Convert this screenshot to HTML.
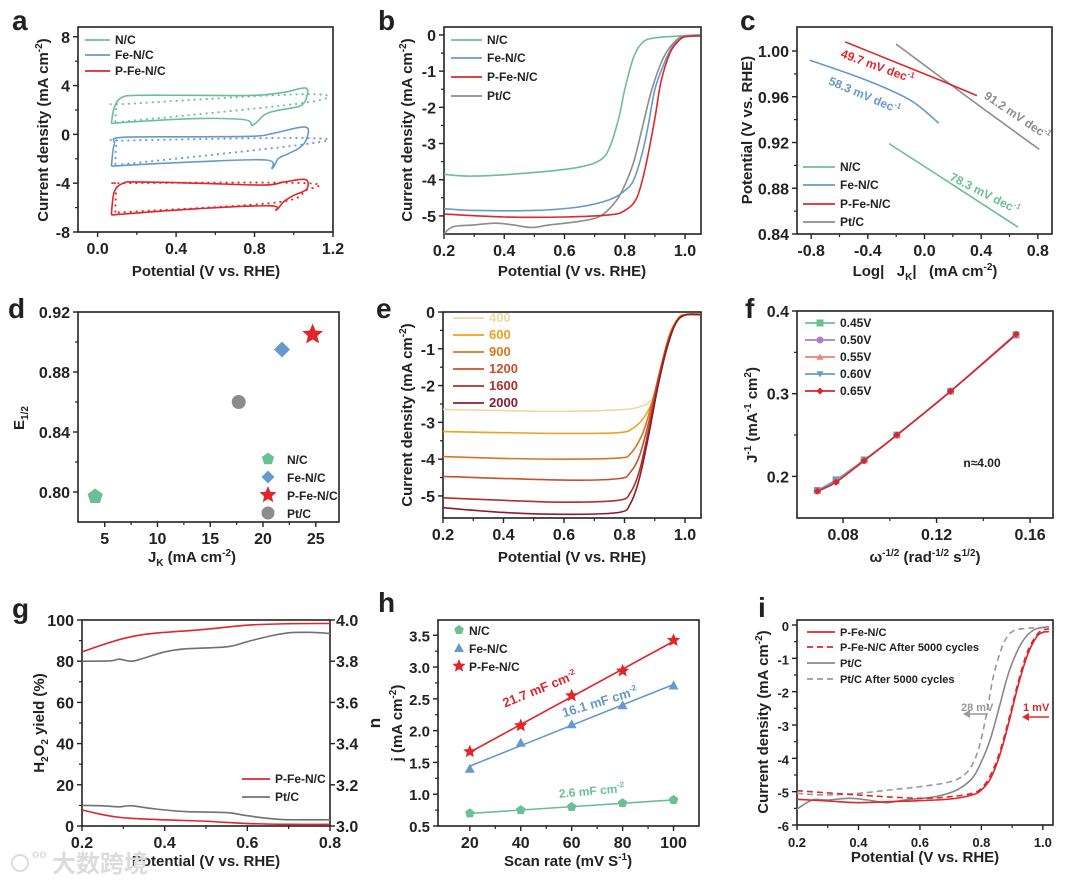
<!DOCTYPE html>
<html><head><meta charset="utf-8"><title>Electrocatalysis figure</title>
<style>
html,body{margin:0;padding:0;background:#fff;}
svg{display:block;font-family:"Liberation Sans","Noto Sans CJK SC",sans-serif;}
</style></head>
<body>
<svg id="fig" width="1076" height="885" viewBox="0 0 1076 885" xmlns="http://www.w3.org/2000/svg"></svg>
<script>
// ---------- data: panel a (CV) ----------
const aNCsolid=[[0.07,0.9],[0.085,2.2],[0.12,3.0],[0.2,3.2],[0.5,3.2],[0.8,3.2],[0.95,3.45],[1.06,3.8],[1.065,3.0],[1.04,2.4],[1.0,2.2],[0.9,1.9],[0.85,1.6],[0.79,0.75],[0.75,1.2],[0.5,1.3],[0.2,1.05],[0.07,0.9]];
const aNCdot=[[0.09,1.0],[0.1,2.4],[0.15,2.5],[1.06,3.3],[1.06,2.6],[0.1,1.0]];
const aFeSolid=[[0.07,-2.6],[0.085,-0.8],[0.12,-0.25],[0.5,-0.2],[0.8,-0.15],[0.9,0.1],[1.06,0.6],[1.065,-0.4],[1.03,-1.1],[0.97,-1.6],[0.92,-2.0],[0.89,-2.8],[0.86,-2.1],[0.5,-2.25],[0.07,-2.6]];
const aFeDot=[[0.09,-2.5],[0.1,-0.6],[0.15,-0.5],[1.06,-0.3],[1.06,-0.8],[0.1,-2.5]];
const aPSolid=[[0.07,-6.6],[0.085,-4.7],[0.13,-4.0],[0.2,-3.9],[0.5,-4.0],[0.85,-4.15],[0.95,-3.9],[1.06,-3.7],[1.065,-4.5],[1.0,-5.0],[0.95,-5.5],[0.91,-6.2],[0.88,-5.85],[0.5,-6.1],[0.07,-6.6]];
const aPDot=[[0.09,-6.4],[0.1,-4.2],[0.15,-4.0],[1.06,-4.0],[1.06,-4.6],[0.9,-5.6],[0.1,-6.4]];
// ---------- panel b (LSV) ----------
const bNC=[[0.2,-3.85],[0.3,-3.9],[0.5,-3.8],[0.65,-3.65],[0.72,-3.45],[0.75,-3.1],[0.78,-2.3],[0.8,-1.5],[0.83,-0.6],[0.86,-0.2],[0.9,-0.08],[1.0,-0.02],[1.05,0]];
const bFe=[[0.2,-4.8],[0.3,-4.85],[0.5,-4.85],[0.65,-4.75],[0.75,-4.55],[0.8,-4.3],[0.83,-4.0],[0.86,-3.2],[0.88,-2.4],[0.9,-1.5],[0.93,-0.8],[0.96,-0.3],[1.0,-0.05],[1.05,-0.02]];
const bP=[[0.2,-4.95],[0.4,-5.03],[0.6,-5.03],[0.75,-4.97],[0.8,-4.85],[0.84,-4.5],[0.87,-3.6],[0.9,-2.3],[0.92,-1.3],[0.95,-0.5],[0.98,-0.15],[1.0,-0.05],[1.05,-0.03]];
const bPt=[[0.2,-5.5],[0.23,-5.3],[0.3,-5.25],[0.37,-5.2],[0.43,-5.25],[0.49,-5.32],[0.55,-5.25],[0.65,-5.15],[0.72,-5.0],[0.77,-4.6],[0.8,-4.15],[0.83,-3.5],[0.86,-2.5],[0.89,-1.5],[0.93,-0.6],[0.97,-0.15],[1.0,-0.03],[1.05,0]];
// ---------- panel c (Tafel) ----------
const cP=[[-0.56,1.008],[-0.2,0.99],[0.1,0.975],[0.37,0.961]];
const cFe=[[-0.81,0.992],[-0.4,0.974],[-0.1,0.957],[0.1,0.937]];
const cPt=[[-0.2,1.006],[0.3,0.96],[0.81,0.914]];
const cNC=[[-0.25,0.919],[0.2,0.883],[0.66,0.846]];
// ---------- panel d (scatter) ----------
const dNames=["N/C","Fe-N/C","P-Fe-N/C","Pt/C"];
const dJk=[4.1,21.8,24.7,17.7];
const dE=[0.797,0.895,0.905,0.860];
// ---------- panel e (rpm) ----------
const eRpm=["400","600","900","1200","1600","2000"];
const e400=[[0.2,-2.65],[0.4,-2.68],[0.6,-2.7],[0.8,-2.65],[0.86,-2.55],[0.88,-2.45],[0.9,-2.2],[0.93,-1.2],[0.96,-0.4],[1.0,-0.08],[1.05,-0.06]];
const e600=[[0.2,-3.25],[0.4,-3.28],[0.6,-3.3],[0.78,-3.28],[0.83,-3.15],[0.87,-2.8],[0.9,-2.25],[0.93,-1.2],[0.96,-0.4],[1.0,-0.08],[1.05,-0.06]];
const e900=[[0.2,-3.93],[0.4,-3.98],[0.6,-4.0],[0.78,-3.97],[0.82,-3.85],[0.86,-3.3],[0.89,-2.5],[0.92,-1.5],[0.95,-0.6],[0.98,-0.15],[1.0,-0.08],[1.05,-0.07]];
const e1200=[[0.2,-4.47],[0.6,-4.57],[0.78,-4.53],[0.82,-4.35],[0.85,-3.9],[0.88,-3.0],[0.91,-1.9],[0.94,-0.9],[0.97,-0.3],[1.0,-0.08],[1.05,-0.07]];
const e1600=[[0.2,-5.05],[0.4,-5.12],[0.6,-5.17],[0.78,-5.12],[0.82,-4.9],[0.85,-4.3],[0.88,-3.2],[0.91,-2.0],[0.94,-0.95],[0.97,-0.3],[1.0,-0.08],[1.05,-0.07]];
const e2000=[[0.2,-5.32],[0.4,-5.45],[0.6,-5.5],[0.78,-5.45],[0.82,-5.2],[0.85,-4.5],[0.88,-3.35],[0.91,-2.05],[0.94,-1.0],[0.97,-0.3],[1.0,-0.08],[1.05,-0.07]];
// ---------- panel f (K-L) ----------
const fX=[0.069,0.077,0.089,0.103,0.126,0.154];
const f045=[0.183,0.196,0.220,0.250,0.303,0.371];
const f050=[0.183,0.195,0.219,0.250,0.303,0.371];
const f055=[0.182,0.194,0.219,0.250,0.303,0.372];
const f060=[0.182,0.194,0.219,0.250,0.303,0.372];
const f065=[0.182,0.193,0.219,0.250,0.303,0.372];
// ---------- panel g (RRDE) ----------
const gPn=[[0.2,84.5],[0.25,88],[0.3,91],[0.35,93],[0.4,94],[0.5,95.5],[0.6,97.5],[0.7,98.2],[0.8,98.3]];
const gPtn=[[0.2,80],[0.27,80.2],[0.29,81],[0.32,80],[0.35,81.5],[0.4,84.5],[0.45,86],[0.55,87],[0.6,89.5],[0.65,92],[0.7,93.8],[0.75,94],[0.8,93.5]];
const gPh=[[0.2,7.8],[0.25,5.5],[0.3,4],[0.4,3],[0.5,2.3],[0.6,1.2],[0.7,0.8],[0.8,0.8]];
const gPth=[[0.2,10],[0.25,9.8],[0.29,9.3],[0.32,9.8],[0.38,8.2],[0.45,7],[0.55,6.5],[0.6,5],[0.68,3.2],[0.8,3]];
// ---------- panel h (Cdl) ----------
const hScan=[20,40,60,80,100];
const hNC=[0.70,0.75,0.80,0.86,0.91];
const hFe=[1.40,1.81,2.10,2.40,2.71];
const hP=[1.67,2.08,2.55,2.94,3.42];
// ---------- panel i (stability) ----------
const iP=[[0.2,-5.23],[0.3,-5.28],[0.4,-5.33],[0.5,-5.3],[0.6,-5.27],[0.7,-5.22],[0.77,-5.1],[0.8,-4.95],[0.83,-4.6],[0.86,-3.9],[0.89,-2.9],[0.92,-1.8],[0.95,-0.9],[0.98,-0.35],[1.0,-0.22],[1.02,-0.2]];
const iPd=[[0.2,-4.97],[0.4,-5.1],[0.6,-5.2],[0.7,-5.15],[0.77,-5.05],[0.8,-4.9],[0.83,-4.5],[0.86,-3.8],[0.89,-2.8],[0.92,-1.7],[0.95,-0.8],[0.98,-0.3],[1.0,-0.15],[1.02,-0.12]];
const iPt=[[0.2,-5.52],[0.25,-5.25],[0.3,-5.25],[0.37,-5.2],[0.43,-5.25],[0.49,-5.33],[0.55,-5.25],[0.65,-5.15],[0.72,-4.95],[0.77,-4.6],[0.8,-4.1],[0.83,-3.4],[0.86,-2.4],[0.89,-1.4],[0.93,-0.55],[0.97,-0.15],[1.02,-0.05]];
const iPtd=[[0.2,-5.05],[0.3,-5.1],[0.4,-5.05],[0.5,-4.95],[0.6,-4.85],[0.7,-4.7],[0.75,-4.45],[0.78,-4.0],[0.8,-3.4],[0.82,-2.5],[0.84,-1.5],[0.87,-0.6],[0.9,-0.2],[0.95,-0.1],[1.02,-0.07]];

const NS="http://www.w3.org/2000/svg";
const svg=document.getElementById('fig');
const GREEN="#6cbf94",BLUE="#6699cc",RED="#e0262a",GRAY="#8c8c8c";

function mk(tag,attrs,parent,name){
  const el=document.createElementNS(NS,tag);
  for(const k in attrs) el.setAttribute(k,attrs[k]);
  
  
  (parent||svg).appendChild(el);
  return el;
}
function txt(x,y,s,opt,name){
  opt=opt||{};
  const t=mk('text',{x:x,y:y,'font-size':opt.size||15,'font-weight':opt.w||'bold','fill':opt.fill||'#222','text-anchor':opt.anchor||'start'},opt.parent,name);
  if(opt.rot!==undefined) t.setAttribute('transform','rotate('+opt.rot+' '+x+' '+y+')');
  t.innerHTML=s;
  return t;
}
function scale(d0,d1,p0,p1){return v=>p0+(v-d0)/(d1-d0)*(p1-p0);}
function smoothPath(pts){
  if(pts.length<3) return 'M'+pts.map(p=>p.join(',')).join('L');
  let d='M'+pts[0][0]+','+pts[0][1];
  for(let i=0;i<pts.length-1;i++){
    const p0=pts[i-1]||pts[i],p1=pts[i],p2=pts[i+1],p3=pts[i+2]||p2;
    const c1=[p1[0]+(p2[0]-p0[0])/6,p1[1]+(p2[1]-p0[1])/6];
    const c2=[p2[0]-(p3[0]-p1[0])/6,p2[1]-(p3[1]-p1[1])/6];
    d+='C'+c1[0]+','+c1[1]+' '+c2[0]+','+c2[1]+' '+p2[0]+','+p2[1];
  }
  return d;
}
function axes(c){
  const sx=scale(c.xd[0],c.xd[1],c.l,c.r), sy=scale(c.yd[0],c.yd[1],c.b,c.t);
  const g=mk('g',{},svg,c.id+'-axes');
  mk('rect',{x:c.l,y:c.t,width:c.r-c.l,height:c.b-c.t,fill:'none',stroke:'#222','stroke-width':1.6},g,c.id+'-plot-frame');
  c.xt.forEach((v,i)=>{const x=sx(v);
    mk('line',{x1:x,y1:c.b,x2:x,y2:c.b+5,stroke:'#222','stroke-width':1.4},g,c.id+'-x-tick');
    txt(x,c.b+22,c.xl[i],{anchor:'middle',size:c.fs||16,parent:g},c.id+'-x-tick-label');});
  (c.xm||[]).forEach(v=>{const x=sx(v);mk('line',{x1:x,y1:c.b,x2:x,y2:c.b+3,stroke:'#222','stroke-width':1.2},g,c.id+'-x-minor-tick');});
  c.yt.forEach((v,i)=>{const y=sy(v);
    mk('line',{x1:c.l-5,y1:y,x2:c.l,y2:y,stroke:'#222','stroke-width':1.4},g,c.id+'-y-tick');
    txt(c.l-8,y+6,c.yl[i],{anchor:'end',size:c.yfs||c.fs||16,parent:g},c.id+'-y-tick-label');});
  (c.ym||[]).forEach(v=>{const y=sy(v);mk('line',{x1:c.l-3,y1:y,x2:c.l,y2:y,stroke:'#222','stroke-width':1.2},g,c.id+'-y-minor-tick');});
  return {sx,sy};
}
function curve(A,pts,color,name,opt){
  opt=opt||{};
  const p=pts.map(q=>[A.sx(q[0]),A.sy(q[1])]);
  const el=mk('path',{d:smoothPath(p),fill:'none',stroke:color,'stroke-width':opt.w||1.6,'stroke-linejoin':'round'},svg,name);
  if(opt.dash) el.setAttribute('stroke-dasharray',opt.dash);
  return el;
}
function legLine(x1,x2,y,color,label,name,opt){
  opt=opt||{};
  const l=mk('line',{x1:x1,y1:y,x2:x2,y2:y,stroke:color,'stroke-width':opt.w||1.8},svg,name+'-swatch');
  if(opt.dash) l.setAttribute('stroke-dasharray',opt.dash);
  txt(x2+5,y+4,label,{size:opt.size||12,fill:opt.fill||'#222'},name+'-label');
}
function marker(type,x,y,color,r,name){
  if(type==='circle') return mk('circle',{cx:x,cy:y,r:r,fill:color},svg,name);
  let pts=[];
  if(type==='diamond') pts=[[0,-r],[r,0],[0,r],[-r,0]];
  if(type==='square') pts=[[-r,-r],[r,-r],[r,r],[-r,r]];
  if(type==='tri') pts=[[0,-r],[r,r*0.8],[-r,r*0.8]];
  if(type==='tridown') pts=[[0,r],[r,-r*0.8],[-r,-r*0.8]];
  if(type==='pent'){for(let k=0;k<5;k++){const a=-Math.PI/2+k*2*Math.PI/5;pts.push([r*Math.cos(a),r*Math.sin(a)]);}}
  if(type==='star'){for(let k=0;k<10;k++){const a=-Math.PI/2+k*Math.PI/5;const rr=k%2?r*0.45:r;pts.push([rr*Math.cos(a),rr*Math.sin(a)]);}}
  return mk('polygon',{points:pts.map(p=>(x+p[0])+','+(y+p[1])).join(' '),fill:color},svg,name);
}
function panelLetter(x,y,s){txt(x,y,s,{size:28},'panel-label-'+s);}

// ===== Panel a =====
panelLetter(12,30,'a');
let A=axes({id:'a',l:78,r:333,t:27,b:232,xd:[-0.1,1.2],yd:[-8,8.8],xt:[0,0.4,0.8,1.2],xl:['0.0','0.4','0.8','1.2'],xm:[0.2,0.6,1.0],yt:[8,4,0,-4,-8],yl:['8','4','0','-4','-8'],ym:[6,2,-2,-6]});
curve(A,aNCdot,GREEN,'a-nc-dotted',{dash:'2 4',w:1.8});
curve(A,aFeDot,BLUE,'a-fenc-dotted',{dash:'2 4',w:1.8});
curve(A,aPDot,RED,'a-pfenc-dotted',{dash:'2 4',w:1.8});
curve(A,aNCsolid,GREEN,'a-nc-cv');
curve(A,aFeSolid,BLUE,'a-fenc-cv');
curve(A,aPSolid,RED,'a-pfenc-cv');
legLine(85,110,40,GREEN,'N/C','a-legend-nc');
legLine(85,110,55,BLUE,'Fe-N/C','a-legend-fenc');
legLine(85,110,71,RED,'P-Fe-N/C','a-legend-pfenc');
txt(48,130,'Current density (mA cm<tspan font-size="10" dy="-6">-2</tspan><tspan dy="6">)</tspan>',{anchor:'middle',rot:-90,size:15},'a-y-axis-title');
txt(206,276,'Potential (V vs. RHE)',{anchor:'middle',size:15},'a-x-axis-title');

// ===== Panel b =====
panelLetter(378,30,'b');
A=axes({id:'b',l:444,r:701,t:27,b:234,xd:[0.2,1.053],yd:[-5.5,0.22],xt:[0.2,0.4,0.6,0.8,1.0],xl:['0.2','0.4','0.6','0.8','1.0'],xm:[0.3,0.5,0.7,0.9],yt:[0,-1,-2,-3,-4,-5],yl:['0','-1','-2','-3','-4','-5'],ym:[-0.5,-1.5,-2.5,-3.5,-4.5]});
curve(A,bNC,GREEN,'b-nc-curve');
curve(A,bPt,GRAY,'b-ptc-curve');
curve(A,bFe,BLUE,'b-fenc-curve');
curve(A,bP,RED,'b-pfenc-curve');
legLine(451,482,40,GREEN,'N/C','b-legend-nc');
legLine(451,482,58,BLUE,'Fe-N/C','b-legend-fenc');
legLine(451,482,77,RED,'P-Fe-N/C','b-legend-pfenc');
legLine(451,482,96,GRAY,'Pt/C','b-legend-ptc');
txt(412,130,'Current density (mA cm<tspan font-size="10" dy="-6">-2</tspan><tspan dy="6">)</tspan>',{anchor:'middle',rot:-90,size:15},'b-y-axis-title');
txt(572,276,'Potential (V vs. RHE)',{anchor:'middle',size:15},'b-x-axis-title');

// ===== Panel c =====
panelLetter(740,30,'c');
A=axes({id:'c',l:797,r:1052,t:27,b:234,xd:[-0.9,0.9],yd:[0.84,1.021],xt:[-0.8,-0.4,0,0.4,0.8],xl:['-0.8','-0.4','0.0','0.4','0.8'],xm:[-0.6,-0.2,0.2,0.6],yt:[1.0,0.96,0.92,0.88,0.84],yl:['1.00','0.96','0.92','0.88','0.84'],ym:[0.98,0.94,0.90,0.86]});
curve(A,cFe,BLUE,'c-fenc-tafel');
curve(A,cNC,GREEN,'c-nc-tafel');
curve(A,cPt,GRAY,'c-ptc-tafel');
curve(A,cP,RED,'c-pfenc-tafel');
txt(876,70,'49.7 mV dec<tspan font-size="8" dy="-5">-1</tspan>',{size:12,fill:RED,anchor:'middle',rot:20},'c-pfenc-slope-label');
txt(863,99,'58.3 mV dec<tspan font-size="8" dy="-5">-1</tspan>',{size:12,fill:BLUE,anchor:'middle',rot:23},'c-fenc-slope-label');
txt(1015,119,'91.2 mV dec<tspan font-size="8" dy="-5">-1</tspan>',{size:12,fill:GRAY,anchor:'middle',rot:34},'c-ptc-slope-label');
txt(983,197,'78.3 mV dec<tspan font-size="8" dy="-5">-1</tspan>',{size:12,fill:GREEN,anchor:'middle',rot:27},'c-nc-slope-label');
legLine(803,835,167,GREEN,'N/C','c-legend-nc');
legLine(803,835,185,BLUE,'Fe-N/C','c-legend-fenc');
legLine(803,835,204,RED,'P-Fe-N/C','c-legend-pfenc');
legLine(803,835,222,GRAY,'Pt/C','c-legend-ptc');
txt(752,130,'Potential (V vs. RHE)',{anchor:'middle',rot:-90,size:15},'c-y-axis-title');
txt(925,276,'Log|&#160;&#160;&#160;J<tspan font-size="10" dy="4">K</tspan><tspan dy="-4">|&#160;&#160;&#160;(mA cm</tspan><tspan font-size="10" dy="-6">-2</tspan><tspan dy="6">)</tspan>',{anchor:'middle',size:15},'c-x-axis-title');

// ===== Panel d =====
panelLetter(8,318,'d');
A=axes({id:'d',l:78,r:339,t:312,b:522,xd:[2.47,27.2],yd:[0.78,0.92],xt:[5,10,15,20,25],xl:['5','10','15','20','25'],xm:[7.5,12.5,17.5,22.5],yt:[0.92,0.88,0.84,0.80],yl:['0.92','0.88','0.84','0.80'],ym:[0.90,0.86,0.82]});
const dTypes=['pent','diamond','star','circle'];
const dColors=[GREEN,BLUE,RED,GRAY];
const dSizes=[8,8,11,7];
dJk.forEach((v,i)=>{marker(dTypes[i],A.sx(v),A.sy(dE[i]),dColors[i],dSizes[i],'d-point-'+dNames[i].toLowerCase().replace(/\//g,''));});
dNames.forEach((n,i)=>{const y=459+i*18;marker(dTypes[i],268,y,dColors[i],i===2?9:6.5,'d-legend-marker');txt(287,y+5,n,{size:12},'d-legend-label');});
txt(24,418,'E<tspan font-size="10" dy="4">1/2</tspan>',{anchor:'middle',rot:-90,size:15},'d-y-axis-title');
txt(192,562,'J<tspan font-size="10" dy="4">K</tspan><tspan dy="-4"> (mA cm</tspan><tspan font-size="10" dy="-6">-2</tspan><tspan dy="6">)</tspan>',{anchor:'middle',size:15},'d-x-axis-title');

// ===== Panel e =====
panelLetter(376,318,'e');
A=axes({id:'e',l:443,r:701,t:312,b:518,xd:[0.2,1.053],yd:[-5.6,0],xt:[0.2,0.4,0.6,0.8,1.0],xl:['0.2','0.4','0.6','0.8','1.0'],xm:[0.3,0.5,0.7,0.9],yt:[0,-1,-2,-3,-4,-5],yl:['0','-1','-2','-3','-4','-5'],ym:[-0.5,-1.5,-2.5,-3.5,-4.5]});
const eColors=['#efd7a6','#f0a01e','#d9761c','#c8502a','#b0302a','#8b1c2a'];
[e400,e600,e900,e1200,e1600,e2000].forEach((s,i)=>{curve(A,s,eColors[i],'e-curve-'+eRpm[i]+'rpm');});
eRpm.forEach((r,i)=>{legLine(453,484,318+i*17,eColors[i],r,'e-legend-'+r,{size:13,fill:eColors[i]});});
txt(412,415,'Current density (mA cm<tspan font-size="10" dy="-6">-2</tspan><tspan dy="6">)</tspan>',{anchor:'middle',rot:-90,size:15},'e-y-axis-title');
txt(572,562,'Potential (V vs. RHE)',{anchor:'middle',size:15},'e-x-axis-title');

// ===== Panel f =====
panelLetter(745,318,'f');
A=axes({id:'f',l:797,r:1053,t:311,b:518,xd:[0.0603,0.1698],yd:[0.1497,0.4],xt:[0.08,0.12,0.16],xl:['0.08','0.12','0.16'],xm:[0.1,0.14],yt:[0.4,0.3,0.2],yl:['0.4','0.3','0.2'],ym:[0.35,0.25]});
const fSeries=[f045,f050,f055,f060,f065];
const fLabels=['0.45V','0.50V','0.55V','0.60V','0.65V'];
const fColors=['#6cbf94','#b07cc6','#f08070','#6699cc','#d9262a'];
const fMarks=['square','circle','tri','tridown','diamond'];
fSeries.forEach((s,i)=>{
  curve(A,fX.map((x,j)=>[x,s[j]]),fColors[i],'f-line-'+fLabels[i],{w:1.6});
  fX.forEach((x,j)=>marker(fMarks[i],A.sx(x),A.sy(s[j]),fColors[i],3.5,'f-point'));
});
fLabels.forEach((l,i)=>{const y=323+i*17;legLine(805,835,y,fColors[i],l,'f-legend-'+l,{size:12});marker(fMarks[i],820,y,fColors[i],3.5,'f-legend-marker');});
txt(982,467,'n≈4.00',{size:12,anchor:'middle'},'f-n-annotation');
txt(757,415,'J<tspan font-size="10" dy="-6">-1</tspan><tspan dy="6"> (mA</tspan><tspan font-size="10" dy="-6">-1</tspan><tspan dy="6"> cm</tspan><tspan font-size="10" dy="-6">2</tspan><tspan dy="6">)</tspan>',{anchor:'middle',rot:-90,size:15},'f-y-axis-title');
txt(925,562,'ω<tspan font-size="10" dy="-6">-1/2</tspan><tspan dy="6"> (rad</tspan><tspan font-size="10" dy="-6">-1/2</tspan><tspan dy="6"> s</tspan><tspan font-size="10" dy="-6">1/2</tspan><tspan dy="6">)</tspan>',{anchor:'middle',size:15},'f-x-axis-title');

// ===== Panel g =====
panelLetter(12,618,'g');
A=axes({id:'g',l:82,r:330,t:620,b:826,xd:[0.2,0.8],yd:[0,100],xt:[0.2,0.4,0.6,0.8],xl:['0.2','0.4','0.6','0.8'],xm:[0.3,0.5,0.7],yt:[100,80,60,40,20,0],yl:['100','80','60','40','20','0'],ym:[90,70,50,30,10]});
const gRt=[4.0,3.8,3.6,3.4,3.2,3.0];
gRt.forEach(v=>{const y=A.sy((v-3)*100);mk('line',{x1:330,y1:y,x2:335,y2:y,stroke:'#222','stroke-width':1.4},svg,'g-right-tick');txt(336,y+6,v.toFixed(1),{size:16},'g-right-tick-label');});
curve(A,gPn,RED,'g-pfenc-n');
curve(A,gPtn,'#707070','g-ptc-n');
curve(A,gPth,'#707070','g-ptc-h2o2');
curve(A,gPh,RED,'g-pfenc-h2o2');
legLine(242,270,779,RED,'P-Fe-N/C','g-legend-pfenc');
legLine(242,270,797,'#707070','Pt/C','g-legend-ptc');
txt(44,723,'H<tspan font-size="10" dy="4">2</tspan><tspan dy="-4">O</tspan><tspan font-size="10" dy="4">2</tspan><tspan dy="-4"> yield (%)</tspan>',{anchor:'middle',rot:-90,size:15},'g-y-axis-title');
txt(206,866,'Potential (V vs. RHE)',{anchor:'middle',size:15},'g-x-axis-title');
// watermark
mk('circle',{cx:20,cy:863,r:8,fill:'none',stroke:'#ddd','stroke-width':2},svg,'watermark-logo');
txt(32,858,'oo',{size:12,fill:'#ddd'},'watermark-logo-text');
txt(52,872,'大数跨境',{size:24,fill:'#dcdcdc',w:'bold'},'watermark-text');

// ===== Panel h =====
panelLetter(378,612,'h');
A=axes({id:'h',l:438,r:699,t:620,b:826,yfs:15,xd:[7.5,110],yd:[0.5,3.74],xt:[20,40,60,80,100],xl:['20','40','60','80','100'],xm:[30,50,70,90],yt:[3.5,3.0,2.5,2.0,1.5,1.0,0.5],yl:['3.5','3.0','2.5','2.0','1.5','1.0','0.5'],ym:[3.25,2.75,2.25,1.75,1.25,0.75]});
function fit(xs,ys){const n=xs.length,mx=xs.reduce((a,b)=>a+b)/n,my=ys.reduce((a,b)=>a+b)/n;let sxy=0,sxx=0;xs.forEach((x,i)=>{sxy+=(x-mx)*(ys[i]-my);sxx+=(x-mx)*(x-mx);});const k=sxy/sxx;return x=>my+k*(x-mx);}
[[hNC,GREEN,'pent','nc'],[hFe,BLUE,'tri','fenc'],[hP,RED,'star','pfenc']].forEach(([ys,c,m,n])=>{
  const f=fit(hScan,ys);
  mk('line',{x1:A.sx(20),y1:A.sy(f(20)),x2:A.sx(100),y2:A.sy(f(100)),stroke:c,'stroke-width':1.6},svg,'h-fit-line-'+n);
  hScan.forEach((x,i)=>marker(m,A.sx(x),A.sy(ys[i]),c,m==='star'?7:5,'h-point-'+n));
});
marker('pent',459,630,GREEN,5,'h-legend-marker');txt(469,635,'N/C',{size:12},'h-legend-nc');
marker('tri',459,648,BLUE,5,'h-legend-marker');txt(469,653,'Fe-N/C',{size:12},'h-legend-fenc');
marker('star',459,666,RED,7,'h-legend-marker');txt(469,671,'P-Fe-N/C',{size:12},'h-legend-pfenc');
txt(541,693,'21.7 mF cm<tspan font-size="8" dy="-5">-2</tspan>',{size:13,fill:RED,anchor:'middle',rot:-22},'h-pfenc-cdl-label');
txt(601,706,'16.1 mF cm<tspan font-size="8" dy="-5">-2</tspan>',{size:13,fill:BLUE,anchor:'middle',rot:-17},'h-fenc-cdl-label');
txt(592,795,'2.6 mF cm<tspan font-size="8" dy="-5">-2</tspan>',{size:12,fill:GREEN,anchor:'middle',rot:-5},'h-nc-cdl-label');
txt(380,723,'n',{size:17,anchor:'middle',rot:-90},'h-stray-n-label');
txt(402,723,'j (mA cm<tspan font-size="10" dy="-6">-2</tspan><tspan dy="6">)</tspan>',{anchor:'middle',rot:-90,size:15},'h-y-axis-title');
txt(568,866,'Scan rate (mV S<tspan font-size="10" dy="-6">-1</tspan><tspan dy="6">)</tspan>',{anchor:'middle',size:15},'h-x-axis-title');

// ===== Panel i =====
panelLetter(758,617,'i');
A=axes({id:'i',l:797,r:1053,t:620,b:825,fs:13,xd:[0.2,1.033],yd:[-6,0.15],xt:[0.2,0.4,0.6,0.8,1.0],xl:['0.2','0.4','0.6','0.8','1.0'],xm:[0.3,0.5,0.7,0.9],yt:[0,-1,-2,-3,-4,-5,-6],yl:['0','-1','-2','-3','-4','-5','-6'],ym:[-0.5,-1.5,-2.5,-3.5,-4.5,-5.5]});
curve(A,iPtd,'#999','i-ptc-after-cycles',{dash:'6 4'});
curve(A,iPt,'#888','i-ptc-initial');
curve(A,iPd,RED,'i-pfenc-after-cycles',{dash:'6 4'});
curve(A,iP,RED,'i-pfenc-initial');
legLine(807,835,632,RED,'P-Fe-N/C','i-legend-pfenc',{size:11});
legLine(807,835,647,RED,'P-Fe-N/C After 5000 cycles','i-legend-pfenc-after',{size:11,dash:'6 4'});
legLine(807,835,663,'#888','Pt/C','i-legend-ptc',{size:11});
legLine(807,835,679,'#999','Pt/C After 5000 cycles','i-legend-ptc-after',{size:11,dash:'6 4'});
txt(961,711,'28 mV',{size:11,fill:'#999'},'i-ptc-shift-label');
mk('line',{x1:988,y1:714,x2:968,y2:714,stroke:'#999','stroke-width':1.6},svg,'i-ptc-shift-arrow');
mk('polygon',{points:'963,714 970,710 970,718',fill:'#999'},svg,'i-ptc-shift-arrowhead');
txt(1023,711,'1 mV',{size:11,fill:RED},'i-pfenc-shift-label');
mk('line',{x1:1049,y1:717,x2:1027,y2:717,stroke:RED,'stroke-width':1.6},svg,'i-pfenc-shift-arrow');
mk('polygon',{points:'1022,717 1029,713 1029,721',fill:RED},svg,'i-pfenc-shift-arrowhead');
txt(768,722,'Current density (mA cm<tspan font-size="10" dy="-6">-2</tspan><tspan dy="6">)</tspan>',{anchor:'middle',rot:-90,size:15},'i-y-axis-title');
txt(925,862,'Potential (V vs. RHE)',{anchor:'middle',size:15},'i-x-axis-title');
</script>
</body></html>
